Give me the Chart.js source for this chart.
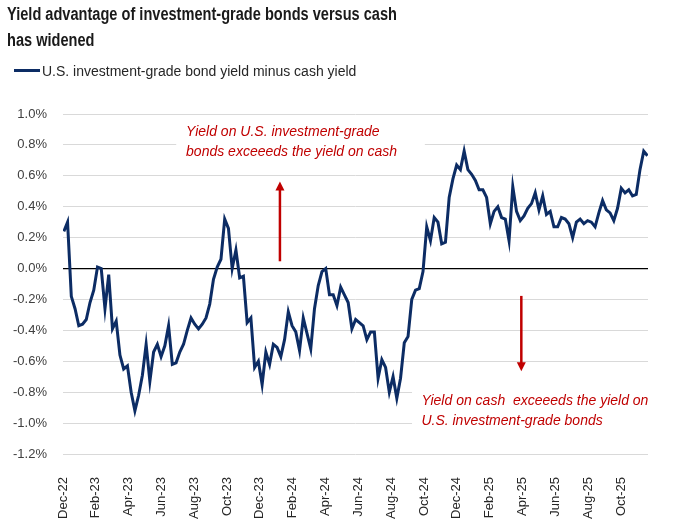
<!DOCTYPE html>
<html>
<head>
<meta charset="utf-8">
<script src="https://cdn.jsdelivr.net/npm/chart.js@4.4.0/dist/chart.umd.min.js"></script>
<style>
  html, body { margin: 0; padding: 0; background: #fff; }
  #wrap { position: relative; width: 679px; height: 529px; overflow: hidden; }
  #title {
    position: absolute; left: 7px; top: 1px; white-space: nowrap;
    font: bold 18px "Liberation Sans", Arial, sans-serif;
    line-height: 26px; color: #1a1a1a;
    transform: scaleX(0.81); transform-origin: 0 0;
  }
  #legend {
    position: absolute; left: 14px; top: 63px;
    font: 14px "Liberation Sans", Arial, sans-serif; line-height: 16px; color: #262626;
  }
  #legend .swatch {
    display: inline-block; width: 26px; height: 3px; background: #0c2c64;
    vertical-align: 4px; margin-right: 2px;
  }
  canvas { position: absolute; left: 0; top: 0; }
</style>
</head>
<body>
<div id="wrap">
  <canvas id="myChart" width="679" height="529"></canvas>
  <div id="title">Yield advantage of investment-grade bonds versus cash<br>has widened</div>
  <div id="legend"><span class="swatch"></span>U.S. investment-grade bond yield minus cash yield</div>
</div>
<script>
// tick labels every two months, starting Dec-22 at month 0
const monthLabels = ["Dec-22", "Feb-23", "Apr-23", "Jun-23", "Aug-23", "Oct-23",
  "Dec-23", "Feb-24", "Apr-24", "Jun-24", "Aug-24", "Oct-24",
  "Dec-24", "Feb-25", "Apr-25", "Jun-25", "Aug-25", "Oct-25"];

// weekly spread, IG bond yield minus cash yield (%)
const spread = [
  0.24, 0.30, -0.18, -0.26, -0.37, -0.36, -0.33, -0.22, -0.14, 0.01,
  0.00, -0.26, -0.04, -0.39, -0.34, -0.56, -0.65, -0.63, -0.80, -0.92,
  -0.82, -0.69, -0.49, -0.73, -0.54, -0.49, -0.57, -0.50, -0.37, -0.62,
  -0.61, -0.54, -0.49, -0.40, -0.32, -0.36, -0.39, -0.36, -0.32, -0.23,
  -0.07, 0.01, 0.06, 0.32, 0.26, 0.00, 0.12, -0.06, -0.05, -0.35,
  -0.32, -0.64, -0.60, -0.75, -0.54, -0.62, -0.49, -0.51, -0.57, -0.46,
  -0.28, -0.37, -0.41, -0.53, -0.32, -0.42, -0.52, -0.26, -0.11, -0.02,
  0.00, -0.17, -0.17, -0.24, -0.12, -0.17, -0.22, -0.39, -0.33, -0.35,
  -0.37, -0.46, -0.41, -0.41, -0.71, -0.59, -0.64, -0.80, -0.70, -0.84,
  -0.71, -0.48, -0.44, -0.20, -0.14, -0.13, -0.02, 0.27, 0.18, 0.33,
  0.30, 0.16, 0.17, 0.46, 0.58, 0.67, 0.64, 0.76, 0.64, 0.61,
  0.57, 0.51, 0.51, 0.46, 0.29, 0.37, 0.40, 0.33, 0.32, 0.18,
  0.53, 0.37, 0.31, 0.34, 0.39, 0.42, 0.49, 0.38, 0.47, 0.35,
  0.37, 0.27, 0.27, 0.33, 0.32, 0.29, 0.20, 0.30, 0.32, 0.29,
  0.31, 0.30, 0.27, 0.36, 0.44, 0.38, 0.36, 0.31, 0.39, 0.52,
  0.49, 0.51, 0.47, 0.48, 0.64, 0.76, 0.73
];

const firstObs = 0.05;   // months after start of Dec-22
const weekStep = 0.228;  // months per weekly observation

const points = spread.map((v, i) => ({ x: firstObs + i * weekStep, y: v }));

const RED = "#c00000";

// callout texts and arrows, placed in data units (months, %)
const callouts = {
  id: "callouts",
  beforeDatasetsDraw(chart) {
    const { ctx, scales: { x, y }, chartArea } = chart;
    ctx.save();
    ctx.fillStyle = "#fff";
    ctx.fillRect(x.getPixelForValue(6.9), y.getPixelForValue(0.96),
      x.getPixelForValue(22.05) - x.getPixelForValue(6.9), y.getPixelForValue(0.67) - y.getPixelForValue(0.96));
    ctx.fillRect(x.getPixelForValue(21.27), y.getPixelForValue(-0.75),
      chartArea.right - x.getPixelForValue(21.27) + 2, y.getPixelForValue(-1.06) - y.getPixelForValue(-0.75));
    ctx.restore();
  },
  afterDatasetsDraw(chart) {
    const { ctx, scales: { x, y } } = chart;
    ctx.save();
    ctx.fillStyle = RED;
    ctx.font = 'italic 14px "Liberation Sans", Arial, sans-serif';
    ctx.textBaseline = "middle";
    ctx.textAlign = "left";
    ctx.fillText("Yield on U.S. investment-grade", x.getPixelForValue(7.5), y.getPixelForValue(0.88));
    ctx.fillText("bonds exceeeds the yield on cash", x.getPixelForValue(7.5), y.getPixelForValue(0.754));
    ctx.fillText("Yield on cash  exceeeds the yield on", x.getPixelForValue(21.84), y.getPixelForValue(-0.856));
    ctx.fillText("U.S. investment-grade bonds", x.getPixelForValue(21.84), y.getPixelForValue(-0.985));

    const arrow = (xm, yFrom, yTo) => {
      const px = x.getPixelForValue(xm);
      const p0 = y.getPixelForValue(yFrom);
      const p1 = y.getPixelForValue(yTo);
      const dir = p1 < p0 ? -1 : 1;
      ctx.strokeStyle = RED;
      ctx.lineWidth = 2.5;
      ctx.beginPath();
      ctx.moveTo(px, p0);
      ctx.lineTo(px, p1 - dir * 7);
      ctx.stroke();
      ctx.beginPath();
      ctx.moveTo(px, p1);
      ctx.lineTo(px - 4.5, p1 - dir * 9);
      ctx.lineTo(px + 4.5, p1 - dir * 9);
      ctx.closePath();
      ctx.fill();
    };
    arrow(13.22, 0.047, 0.563);
    arrow(27.93, -0.177, -0.665);
    ctx.restore();
  }
};

const ctx = document.getElementById("myChart").getContext("2d");

new Chart(ctx, {
  type: "line",
  data: {
    datasets: [{
      label: "U.S. investment-grade bond yield minus cash yield",
      data: points,
      borderColor: "#0c2c64",
      borderWidth: 3,
      pointRadius: 0,
      tension: 0,
      fill: false
    }]
  },
  options: {
    responsive: false,
    animation: false,
    layout: { padding: { top: 114, right: 31, left: 0, bottom: 0 } },
    plugins: {
      legend: { display: false },
      title: { display: false },
      tooltip: { enabled: false }
    },
    scales: {
      x: {
        type: "linear",
        min: 0,
        max: 35.65,
        grid: { display: false, drawTicks: false },
        border: { display: false },
        afterBuildTicks: (scale) => {
          scale.ticks = monthLabels.map((_, i) => ({ value: i * 2 }));
        },
        afterFit: (scale) => { scale.height = 75; },
        ticks: {
          autoSkip: false,
          minRotation: 90,
          maxRotation: 90,
          padding: 23,
          color: "#262626",
          font: { family: '"Liberation Sans", Arial, sans-serif', size: 13 },
          callback: (value) => monthLabels[Math.round(value / 2)]
        }
      },
      y: {
        min: -1.2,
        max: 1.0,
        afterFit: (scale) => { scale.width = 63; },
        grid: {
          drawTicks: false,
          color: (c) => Math.abs(c.tick.value) < 1e-9 ? "#000" : "#d9d9d9",
          lineWidth: (c) => Math.abs(c.tick.value) < 1e-9 ? 1.3 : 1
        },
        border: { display: false },
        ticks: {
          stepSize: 0.2,
          padding: 16,
          color: "#404040",
          font: { family: '"Liberation Sans", Arial, sans-serif', size: 13 },
          callback: (value) => value.toFixed(1) + "%"
        }
      }
    }
  },
  plugins: [callouts]
});
</script>
</body>
</html>
